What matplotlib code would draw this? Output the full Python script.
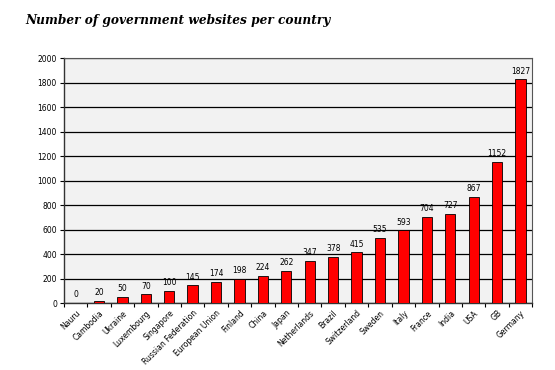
import matplotlib
matplotlib.use("Agg")
import matplotlib.pyplot as plt
import numpy as np

countries = ["Nauru", "Cambodia", "Ukraine", "Luxembourg", "Singapore",
             "Russian Federation", "European Union", "Finland", "China", "Japan",
             "Netherlands", "Brazil", "Switzerland", "Sweden", "Italy", "France",
             "India", "USA", "GB", "Germany"]
websites = [0, 20, 50, 70, 100, 145, 174, 198, 224, 262, 347, 378, 415, 535,
            593, 704, 727, 867, 1152, 1827]
yticks = [0, 200, 400, 600, 800, 1000, 1200, 1400, 1600, 1800, 2000]

fig = plt.figure(figsize=(5.55, 3.7), dpi=100)
ax = fig.add_axes([0.115, 0.181, 0.844, 0.662])
ax.set_facecolor("#f2f2f2")

x = np.arange(len(countries))
ax.bar(x, websites, width=0.44, color="#ff0000", edgecolor="black", linewidth=0.6, zorder=3)
for xi, v in zip(x, websites):
    ax.text(xi, v + 30, str(v), ha="center", va="bottom", fontsize=5.5, zorder=4)

ax.set_xlim(-0.5, len(countries) - 0.5)
ax.set_ylim(0, 2000)
ax.set_yticks(yticks)
ax.set_yticklabels([str(t) for t in yticks], fontsize=5.5)
ax.yaxis.grid(True, color="black", linewidth=0.9, zorder=1)
ax.set_axisbelow(True)

ax.set_xticks(x)
ax.set_xticklabels(countries, rotation=45, ha="right", rotation_mode="anchor", fontsize=5.5)
ax.tick_params(axis="x", length=0, pad=4)
ax.set_xticks(np.arange(-0.5, len(countries) + 0.5, 1), minor=True)
ax.tick_params(axis="x", which="minor", length=3, width=0.8)
ax.tick_params(axis="y", length=3, width=0.8, pad=2)

for s in ["top", "right"]:
    ax.spines[s].set_color("#555555")
    ax.spines[s].set_linewidth(0.8)
for s in ["left", "bottom"]:
    ax.spines[s].set_color("#333333")
    ax.spines[s].set_linewidth(1.0)

fig.text(0.045, 0.945, "Number of government websites per country", fontsize=8.7,
         fontstyle="italic", fontweight="bold", family="DejaVu Serif", va="center", ha="left")

fig.savefig("out.png", dpi=100)
